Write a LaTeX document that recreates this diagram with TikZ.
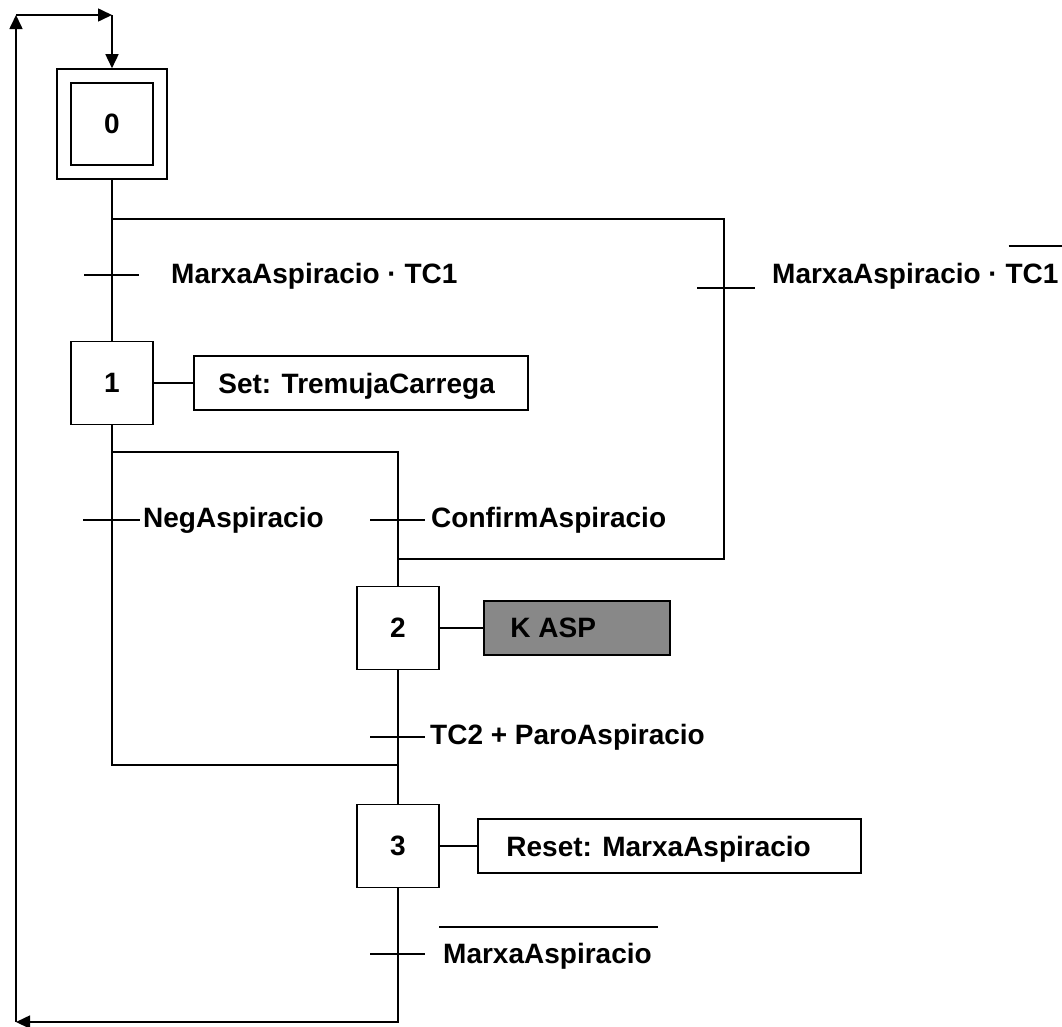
\documentclass[tikz,border=0pt]{standalone}
\usepackage{fontspec}
\setmainfont{Liberation Sans}
\usetikzlibrary{arrows.meta,calc}
\definecolor{actfill}{RGB}{136,136,136}
\begin{document}
\begin{tikzpicture}[x=1pt,y=-1pt,
  every node/.style={font=\fontsize{28}{34}\selectfont\bfseries},
  link/.style={line width=1.6pt},
  flow/.style={link,-{Triangle[length=14pt,width=13pt]}},
  stepbox/.style={draw,line width=1.6pt,minimum width=82pt,minimum height=83pt,inner sep=0pt},
  actbox/.style={draw,line width=1.6pt,minimum height=54pt,inner sep=0pt},
  cond/.style={anchor=base west,inner sep=0pt},
]
\useasboundingbox (0,0) rectangle (1062,1026);
\fill[white] (0,0) rectangle (1062,1026);

% steps (step 0 is the initial step: double frame)
\node[stepbox,minimum height=82pt] (s0i) at (112,124) {0};
\node[draw,line width=1.6pt,minimum size=110pt,inner sep=0pt] (s0) at (112,124) {};
\node[stepbox] (s1) at (112,383) {1};
\node[stepbox] (s2) at (398,628) {2};
\node[stepbox] (s3) at (398,846) {3};

% actions
\node[actbox,minimum width=334pt] (a1) at (361,383) {};
\node[cond] (a1t) at ($(a1.west)+(25,10)$) {Set: TremujaCarrega};
\node[actbox,minimum width=186pt,fill=actfill] (a2) at (577,628) {};
\node[cond] (a2t) at ($(a2.west)+(27,9)$) {K ASP};
\node[actbox,minimum width=383pt] (a3) at (669.5,846) {};
\node[cond] (a3t) at ($(a3.west)+(29,10)$) {Reset: MarxaAspiracio};
\draw[link] (s1.east) -- (a1.west);
\draw[link] (s2.east) -- (a2.west);
\draw[link] (s3.east) -- (a3.west);

% junction points
\coordinate (j0) at (112,219);
\coordinate (j0r) at (724,219);
\coordinate (j2r) at (724,559);
\coordinate (j2) at (398,559);
\coordinate (j1) at (112,452);
\coordinate (j1r) at (398,452);
\coordinate (m1) at (112,765);
\coordinate (m2) at (398,765);
\coordinate (br) at (398,1022);
\coordinate (bl) at (16,1022);
\coordinate (tl) at (16,15);
\coordinate (tr) at (112,15);

% flow lines
\draw[link] (s0.south) -- (s1.north);
\draw[link] (j0) -- (j0r) -- (j2r) -- (j2);
\draw[link] (s1.south) -- (m1) -- (m2);
\draw[link] (j1) -- (j1r) -- (s2.north);
\draw[link] (s2.south) -- (s3.north);
\draw[flow] (s3.south) -- (br) -- (bl);
\draw[flow] (bl) -- (tl);
\draw[flow] (tl) -- (tr);
\draw[flow] (tr) -- (s0.north);

% transitions
\coordinate (t0l) at (112,275);
\coordinate (t0r) at (724,288);
\coordinate (t1l) at (112,520);
\coordinate (t1r) at (398,520);
\coordinate (t2) at (398,737);
\coordinate (t3) at (398,954);
\draw[link] ($(t0l)+(-28,0)$) -- ($(t0l)+(27,0)$);
\draw[link] ($(t0r)+(-27,0)$) -- ($(t0r)+(31,0)$);
\draw[link] ($(t1l)+(-29,0)$) -- ($(t1l)+(28,0)$);
\draw[link] ($(t1r)+(-28,0)$) -- ($(t1r)+(27,0)$);
\draw[link] ($(t2)+(-28,0)$) -- ($(t2)+(27,0)$);
\draw[link] ($(t3)+(-28,0)$) -- ($(t3)+(27,0)$);

% receptivities
\node[cond] (c0l) at (171,283) {MarxaAspiracio · TC1};
\node[cond] (c0r) at (772,283) {MarxaAspiracio · TC1};
\draw[link] ($(c0r.base east)+(-50,-37)$) -- ($(c0r.base east)+(8,-37)$);
\node[cond] (c1l) at (143,527) {NegAspiracio};
\node[cond] (c1r) at (431,527) {ConfirmAspiracio};
\node[cond] (c2) at (430,744) {TC2 + ParoAspiracio};
\node[cond] (c3) at (443,963) {MarxaAspiracio};
\draw[link] ($(c3.base west)+(-4,-36)$) -- ($(c3.base east)+(6,-36)$);
\end{tikzpicture}
\end{document}
